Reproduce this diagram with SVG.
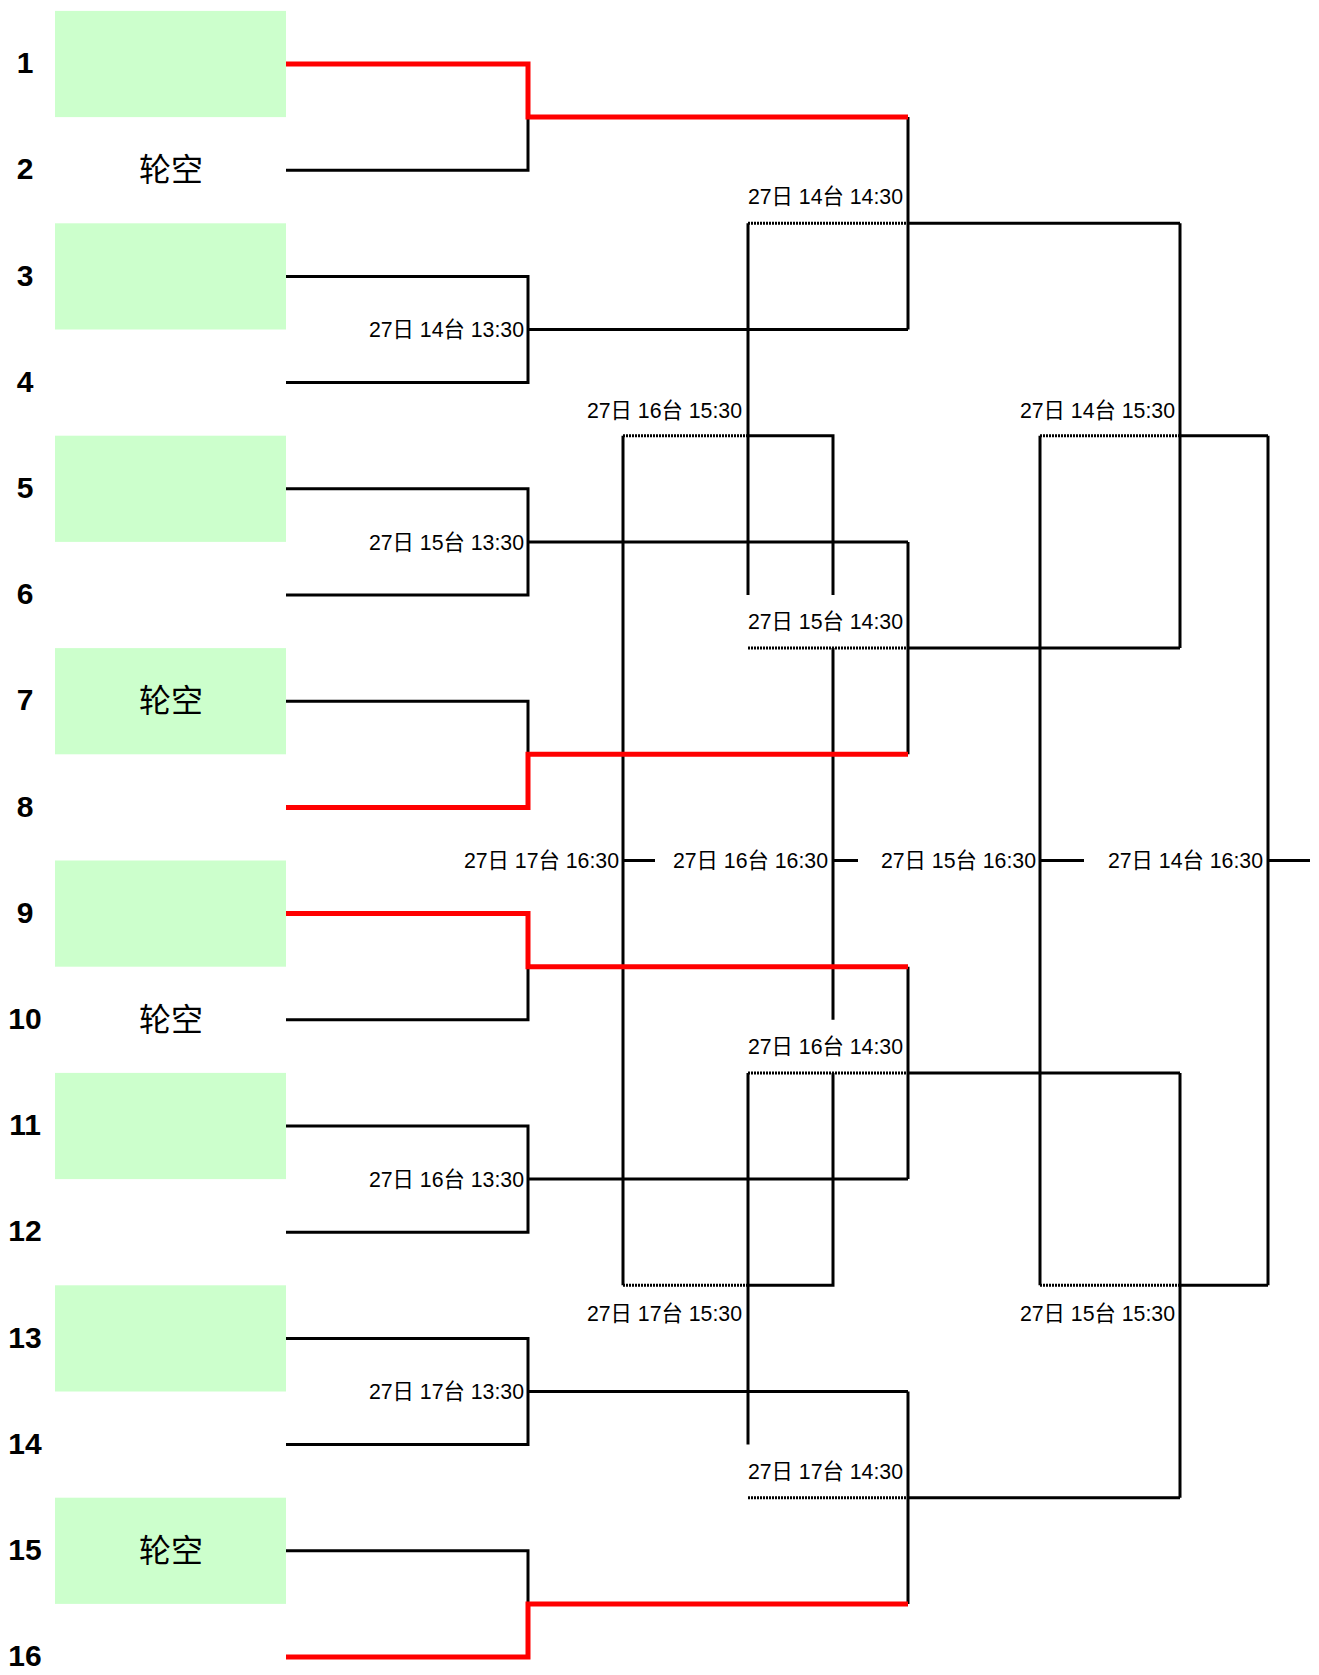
<svg xmlns="http://www.w3.org/2000/svg" width="1319" height="1675" viewBox="0 0 1319 1675">
<style>
.num{font-family:"Liberation Sans",Arial,sans-serif;font-weight:bold;font-size:30px;text-anchor:middle;fill:#000}
.bye{font-family:"Noto Sans CJK SC","Liberation Sans",sans-serif;font-size:32px;text-anchor:middle;fill:#000}
.lbl{font-family:"Liberation Sans","Noto Sans CJK SC",sans-serif;font-size:21.3px;text-anchor:end;fill:#000}
.box{fill:#CCFFCC}
.ln{fill:none;stroke:#000;stroke-width:3}
.dot{fill:none;stroke:#000;stroke-width:3;stroke-dasharray:2 1}
.red{fill:none;stroke:#FF0000;stroke-width:5}
</style>
<rect width="1319" height="1675" fill="#fff"/>
<g id="team1"><rect class="box" x="55" y="10.9" width="231" height="106.2"/><text class="num" x="25" y="73.2">1</text></g>
<g id="team2"><text class="num" x="25" y="179.4">2</text><text class="bye" x="171" y="181.2">轮空</text></g>
<g id="team3"><rect class="box" x="55" y="223.3" width="231" height="106.2"/><text class="num" x="25" y="285.6">3</text></g>
<g id="team4"><text class="num" x="25" y="391.8">4</text></g>
<g id="team5"><rect class="box" x="55" y="435.7" width="231" height="106.2"/><text class="num" x="25" y="498">5</text></g>
<g id="team6"><text class="num" x="25" y="604.2">6</text></g>
<g id="team7"><rect class="box" x="55" y="648.1" width="231" height="106.2"/><text class="num" x="25" y="710.4">7</text><text class="bye" x="171" y="712.2">轮空</text></g>
<g id="team8"><text class="num" x="25" y="816.6">8</text></g>
<g id="team9"><rect class="box" x="55" y="860.5" width="231" height="106.2"/><text class="num" x="25" y="922.8">9</text></g>
<g id="team10"><text class="num" x="25" y="1029">10</text><text class="bye" x="171" y="1030.8">轮空</text></g>
<g id="team11"><rect class="box" x="55" y="1072.9" width="231" height="106.2"/><text class="num" x="25" y="1135.2">11</text></g>
<g id="team12"><text class="num" x="25" y="1241.4">12</text></g>
<g id="team13"><rect class="box" x="55" y="1285.3" width="231" height="106.2"/><text class="num" x="25" y="1347.6">13</text></g>
<g id="team14"><text class="num" x="25" y="1453.8">14</text></g>
<g id="team15"><rect class="box" x="55" y="1497.7" width="231" height="106.2"/><text class="num" x="25" y="1560">15</text><text class="bye" x="171" y="1561.8">轮空</text></g>
<g id="team16"><text class="num" x="25" y="1666.2">16</text></g>
<g id="connectors">
<path class="ln" d="M286 170.2 H528 V117.1 M286 276.4 H528 V382.6 H286 M528 329.5 H908 M286 488.8 H528 V595 H286 M528 541.9 H908 M286 701.2 H528 V754.3 M286 1019.8 H528 V966.7 M286 1126 H528 V1232.2 H286 M528 1179.1 H908 M286 1338.4 H528 V1444.6 H286 M528 1391.5 H908 M286 1550.8 H528 V1603.9"/>
<path class="ln" d="M908 117.1 V329.5 M908 223.3 H1180 M908 541.9 V754.3 M908 648.1 H1180 M908 966.7 V1179.1 M908 1072.9 H1180 M908 1391.5 V1603.9 M908 1497.7 H1180"/>
<path class="dot" d="M748 223.3 H908 M748 648.1 H908 M748 1072.9 H908 M748 1497.7 H908"/>
<path class="ln" d="M1180 223.3 V648.1 M1180 435.7 H1268 M1180 1072.9 V1497.7 M1180 1285.3 H1268 M1040 435.7 V1285.3 M1268 435.7 V1285.3"/>
<path class="dot" d="M1040 435.7 H1180 M1040 1285.3 H1180 M623 435.7 H748 M623 1285.3 H748"/>
<path class="ln" d="M748 223.3 V595 M748 1072.9 V1444.6 M623 435.7 V1285.3 M748 435.7 H833 V595 M833 648.1 V1019.8 M833 1072.9 V1285.3 H748"/>
<path class="ln" d="M623 860.5 H655 M833 860.5 H858 M1040 860.5 H1084 M1268 860.5 H1310"/>
<path class="red" d="M286 64 H528 V117.1 H908 M286 807.4 H528 V754.3 H908 M286 913.6 H528 V966.7 H908 M286 1657 H528 V1603.9 H908"/>
</g>
<g id="labels">
<text class="lbl" x="524" y="337.1">27日 14台 13:30</text>
<text class="lbl" x="524" y="549.5">27日 15台 13:30</text>
<text class="lbl" x="524" y="1186.7">27日 16台 13:30</text>
<text class="lbl" x="524" y="1399.1">27日 17台 13:30</text>
<text class="lbl" x="903" y="204.3">27日 14台 14:30</text>
<text class="lbl" x="903" y="629.1">27日 15台 14:30</text>
<text class="lbl" x="903" y="1053.9">27日 16台 14:30</text>
<text class="lbl" x="903" y="1478.7">27日 17台 14:30</text>
<text class="lbl" x="742" y="417.6">27日 16台 15:30</text>
<text class="lbl" x="1175" y="417.6">27日 14台 15:30</text>
<text class="lbl" x="742" y="1320.6">27日 17台 15:30</text>
<text class="lbl" x="1175" y="1320.6">27日 15台 15:30</text>
<text class="lbl" x="619" y="868.1">27日 17台 16:30</text>
<text class="lbl" x="828" y="868.1">27日 16台 16:30</text>
<text class="lbl" x="1036" y="868.1">27日 15台 16:30</text>
<text class="lbl" x="1263" y="868.1">27日 14台 16:30</text>
</g>
</svg>
